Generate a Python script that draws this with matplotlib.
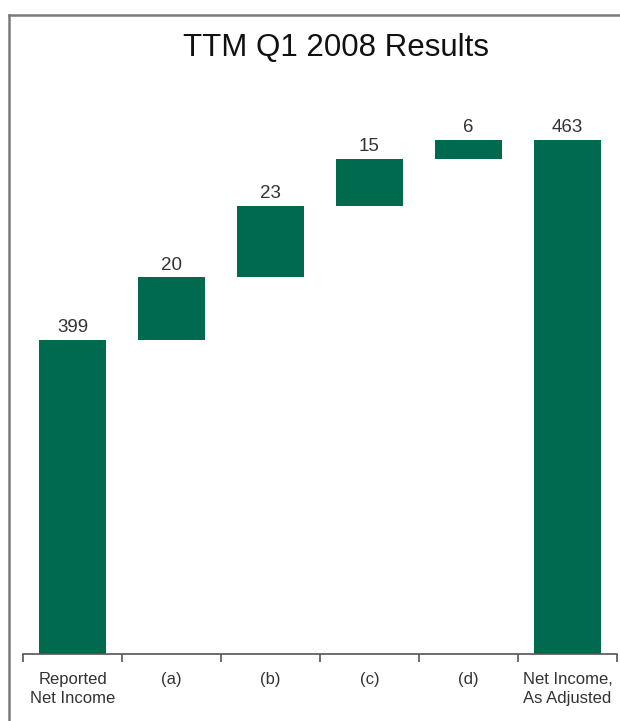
import matplotlib
matplotlib.use("Agg")
import matplotlib.pyplot as plt
from matplotlib.lines import Line2D
import numpy as np

plt.rcParams['font.family'] = ['Liberation Sans', 'DejaVu Sans']

categories = ["Reported\nNet Income", "(a)", "(b)", "(c)", "(d)", "Net Income,\nAs Adjusted"]
values = [399, 20, 23, 15, 6, 463]
is_total = [True, False, False, False, False, True]
title = "TTM Q1 2008 Results"

bar_color = "#006a4e"
text_color = "#333333"

W, H = 620, 721
fig = plt.figure(figsize=(W / 100, H / 100), dpi=100)

# plot area in pixel coordinates (top-left origin)
left_px, right_px, top_px, base_px = 23, 617, 100, 654
ax = fig.add_axes([left_px / W, 1 - base_px / H,
                   (right_px - left_px) / W, (base_px - top_px) / H])

# waterfall bottoms
bottoms = []
running = 0
for v, tot in zip(values, is_total):
    if tot:
        bottoms.append(None)
        running = v
    else:
        bottoms.append(running)
        running += v

ymin = 298.5
px_per_unit = 3.125
ymax = ymin + (base_px - top_px) / px_per_unit

x = np.arange(len(values))
for xi, v, b, tot in zip(x, values, bottoms, is_total):
    if tot:
        ax.bar(xi, v - ymin, bottom=ymin, width=0.68, color=bar_color, edgecolor='none')
        top = v
    else:
        ax.bar(xi, v, bottom=b, width=0.68, color=bar_color, edgecolor='none')
        top = b + v
    ax.text(xi, top + 1.2, str(v), ha='center', va='bottom', fontsize=13.5, color=text_color)

ax.set_xlim(-0.5, len(values) - 0.5)
ax.set_ylim(ymin, ymax)
ax.set_yticks([])
ax.set_xticks(np.arange(len(values) + 1) - 0.5, minor=False)
ax.set_xticklabels([])
ax.set_xticks(x, minor=True)
ax.set_xticklabels(categories, minor=True, fontsize=12, color=text_color, linespacing=1.3)
ax.tick_params(axis='x', which='major', length=6, width=1.2, color='#555555', direction='out')
ax.tick_params(axis='x', which='minor', length=0, pad=13)
for s in ['top', 'right', 'left']:
    ax.spines[s].set_visible(False)
ax.spines['bottom'].set_color('#555555')
ax.spines['bottom'].set_linewidth(1.2)

fig.text(336 / W, 1 - 48 / H, title, ha='center', va='center', fontsize=22.5, color='#111111')

# outer frame (left and top edges)
fig.add_artist(Line2D([9 / W, 9 / W], [0, 1 - 15 / H], color='#7a7a7a', lw=1.8))
fig.add_artist(Line2D([9 / W, 1.0], [1 - 15 / H, 1 - 15 / H], color='#7a7a7a', lw=1.8))

fig.savefig("out.png", dpi=100)
